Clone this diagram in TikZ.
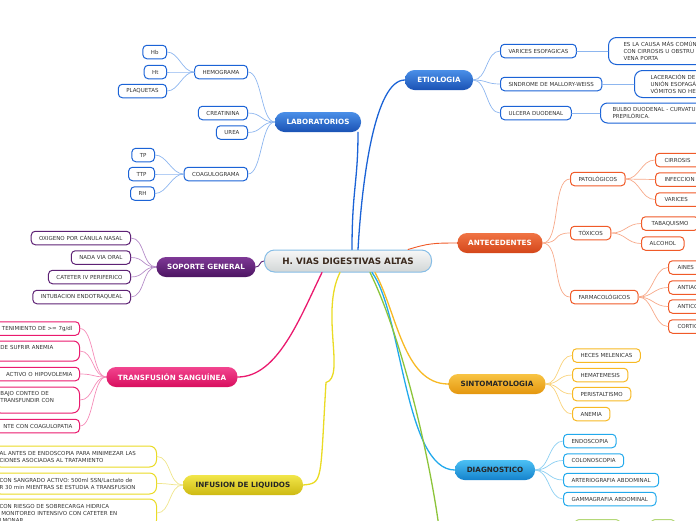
\documentclass[tikz,border=0pt]{standalone}
\usepackage{fontspec}
\setmainfont{DejaVu Sans}
\usetikzlibrary{calc}

\definecolor{txtgray}{HTML}{333333}
\definecolor{roottext}{HTML}{3B2A1E}
\definecolor{rootline}{HTML}{86BDE6}
\definecolor{rootA}{HTML}{F7F7F7}
\definecolor{rootB}{HTML}{D2D6D6}
% blue (laboratorios, etiologia)
\definecolor{labA}{HTML}{4A8FE8}
\definecolor{labB}{HTML}{1A52B4}
\definecolor{labline}{HTML}{1B63D6}
\definecolor{labkid}{HTML}{8DB6EF}
% purple
\definecolor{sopA}{HTML}{7E3996}
\definecolor{sopB}{HTML}{4C1462}
\definecolor{sopline}{HTML}{5E2275}
\definecolor{sopkid}{HTML}{B58CC8}
% orange-red
\definecolor{antA}{HTML}{F07444}
\definecolor{antB}{HTML}{D4461A}
\definecolor{antline}{HTML}{F05A28}
\definecolor{antkid}{HTML}{F7A98A}
% pink
\definecolor{traA}{HTML}{F2458F}
\definecolor{traB}{HTML}{D80E5E}
\definecolor{traline}{HTML}{EA1A6E}
\definecolor{trakid}{HTML}{F58CB8}
% orange-yellow
\definecolor{sinA}{HTML}{F8C444}
\definecolor{sinB}{HTML}{E4960E}
\definecolor{sinline}{HTML}{F7B924}
\definecolor{sinkid}{HTML}{F9D27A}
% light blue
\definecolor{diaA}{HTML}{4CC0F4}
\definecolor{diaB}{HTML}{1482CC}
\definecolor{dialine}{HTML}{22A9EC}
\definecolor{diakid}{HTML}{8CCFF2}
% yellow
\definecolor{infA}{HTML}{F2E64A}
\definecolor{infB}{HTML}{CDB912}
\definecolor{infline}{HTML}{EADB24}
\definecolor{infkid}{HTML}{EFE58A}
% green
\definecolor{verde}{HTML}{8CC43A}
\definecolor{verdekid}{HTML}{B4D878}

\begin{document}
\begin{tikzpicture}[x=1pt, y=-1pt, line cap=round, line join=round,
	leaf/.style={draw, fill=white, rounded corners=4pt, line width=1pt, text=txtgray,
		font=\fontsize{5.5}{7}\selectfont, inner xsep=8pt, inner ysep=0pt, minimum height=13.5pt},
	edgeleaf/.style={leaf, align=left, text width=36pt, inner xsep=9pt},
	branch/.style={rounded corners=9.5pt, minimum height=20pt, inner xsep=10pt,
		font=\bfseries\fontsize{7.2}{8}\selectfont},
	kid/.style={line width=0.7pt},
	trunk/.style={line width=1.3pt}]

\useasboundingbox (0,0) rectangle (696,520);
\clip (0,0) rectangle (696,520);

%========================
% Root
%========================
\node[draw=rootline, line width=1pt, rounded corners=10pt, top color=rootA, bottom color=rootB,
	minimum width=167pt, minimum height=22pt, font=\bfseries\fontsize{8.8}{10}\selectfont,
	text=roottext] (root) at (348,261) {H. VIAS DIGESTIVAS ALTAS};

%========================
% Laboratorios
%========================
\node[branch, top color=labA, bottom color=labB, text=white, minimum width=86pt] (lab) at (318,122) {LABORATORIOS};
\node[leaf, draw=labline, anchor=east] (hem) at (248,72) {HEMOGRAMA};
\node[leaf, draw=labline, anchor=east] (hb) at (167,52) {Hb};
\node[leaf, draw=labline, anchor=east] (ht) at (167,72) {Ht};
\node[leaf, draw=labline, anchor=east] (plq) at (167,91) {PLAQUETAS};
\node[leaf, draw=labline, anchor=east] (crea) at (248,113) {CREATININA};
\node[leaf, draw=labline, anchor=east] (urea) at (248,132.5) {UREA};
\node[leaf, draw=labline, anchor=east] (coag) at (248,174) {COAGULOGRAMA};
\node[leaf, draw=labline, anchor=east] (tp) at (155,155) {TP};
\node[leaf, draw=labline, anchor=east] (ttp) at (155,174) {TTP};
\node[leaf, draw=labline, anchor=east] (rh) at (155,193.5) {RH};

\draw[trunk, labline] ($(root.north)+(4,0)$) .. controls +(0,-60) and +(0,50) .. ($(lab.south)+(40,0)$);
\foreach \k in {hem,crea,urea,coag}
	\draw[kid, labkid] (lab.west) .. controls +(-14,0) and +(14,0) .. (\k.east);
\foreach \k in {hb,ht,plq}
	\draw[kid, labkid] (hem.west) .. controls +(-12,0) and +(12,0) .. (\k.east);
\foreach \k in {tp,ttp,rh}
	\draw[kid, labkid] (coag.west) .. controls +(-12,0) and +(12,0) .. (\k.east);

%========================
% Etiologia
%========================
\node[branch, top color=labA, bottom color=labB, text=white, minimum width=68pt] (etio) at (439,80) {ETIOLOGIA};
\node[leaf, draw=labline, anchor=west] (vari) at (500,51) {VARICES ESOFAGICAS};
\node[leaf, draw=labline, anchor=west] (mw) at (500,84) {SINDROME DE MALLORY-WEISS};
\node[leaf, draw=labline, anchor=west] (ulc) at (500,113) {ULCERA DUODENAL};
\node[leaf, draw=labline, anchor=west, align=left, text width=110pt, inner xsep=15pt,
	minimum height=27pt, rounded corners=8pt] (vari1) at (608,51)
	{ES LA CAUSA MÁS COMÚN\\CON CIRROSIS U OBSTRU\\VENA PORTA};
\node[leaf, draw=labline, anchor=west, align=left, text width=90pt, inner xsep=16pt,
	minimum height=27pt, rounded corners=8pt] (mw1) at (634,84)
	{LACERACIÓN DE\\UNIÓN ESOFAGÁ\\VÓMITOS NO HE};
\node[leaf, draw=labline, anchor=west, align=left, text width=110pt, inner xsep=12pt,
	minimum height=20pt, rounded corners=7pt] (ulc1) at (600,113)
	{BULBO DUODENAL - CURVATU\\PREPILÓRICA.};

\draw[trunk, labline] ($(root.north)+(10,0)$) .. controls +(4,-70) and +(-30,0) .. (etio.west);
\foreach \k in {vari,mw,ulc}
	\draw[kid, labkid] (etio.east) .. controls +(14,0) and +(-14,0) .. (\k.west);
\draw[kid, labkid] (vari.east) -- (vari1.west);
\draw[kid, labkid] (mw.east) -- (mw1.west);
\draw[kid, labkid] (ulc.east) -- (ulc1.west);

%========================
% Antecedentes
%========================
\node[branch, top color=antA, bottom color=antB, text=white, minimum width=85pt] (ant) at (500,243) {ANTECEDENTES};
\node[leaf, draw=antline, anchor=west] (pat) at (570,179) {PATOLÓGICOS};
\node[edgeleaf, draw=antline, anchor=west] (cirr) at (655,160) {CIRROSIS};
\node[edgeleaf, draw=antline, anchor=west] (infec) at (655,179.5) {INFECCION};
\node[edgeleaf, draw=antline, anchor=west] (varc) at (655,199.5) {VARICES};
\node[leaf, draw=antline, anchor=west] (tox) at (570,233) {TÓXICOS};
\node[leaf, draw=antline, anchor=west, minimum width=57pt] (tab) at (641,223.5) {TABAQUISMO};
\node[leaf, draw=antline, anchor=west] (alc) at (641,243.5) {ALCOHOL};
\node[leaf, draw=antline, anchor=west] (farm) at (570,297) {FARMACOLÓGICOS};
\node[edgeleaf, draw=antline, anchor=west] (aines) at (668,267.5) {AINES};
\node[edgeleaf, draw=antline, anchor=west] (antiag) at (668,287.5) {ANTIAC};
\node[edgeleaf, draw=antline, anchor=west] (antico) at (668,306.5) {ANTICO};
\node[edgeleaf, draw=antline, anchor=west] (cort) at (668,326.5) {CORTIC};

\draw[line width=0.9pt, antline] ($(root.north)+(60,0)$) .. controls +(20,-6) and +(-25,0) .. (ant.west);
\foreach \k in {pat,tox,farm}
	\draw[kid, antkid] (ant.east) .. controls +(18,0) and +(-18,0) .. (\k.west);
\foreach \k in {cirr,infec,varc}
	\draw[kid, antkid] (pat.east) .. controls +(14,0) and +(-14,0) .. (\k.west);
\foreach \k in {tab,alc}
	\draw[kid, antkid] (tox.east) .. controls +(14,0) and +(-14,0) .. (\k.west);
\foreach \k in {aines,antiag,antico,cort}
	\draw[kid, antkid] (farm.east) .. controls +(14,0) and +(-14,0) .. (\k.west);

%========================
% Soporte general
%========================
\node[branch, top color=sopA, bottom color=sopB, text=white, minimum width=99pt] (sop) at (206,267) {SOPORTE GENERAL};
\node[leaf, draw=sopline, anchor=east] (oxi) at (131,238) {OXIGENO POR CÁNULA NASAL};
\node[leaf, draw=sopline, anchor=east] (nvo) at (131,257.5) {NADA VIA ORAL};
\node[leaf, draw=sopline, anchor=east] (cat) at (131,277) {CATETER IV PERIFERICO};
\node[leaf, draw=sopline, anchor=east] (intu) at (131,297) {INTUBACION ENDOTRAQUEAL};

\draw[line width=0.9pt, sopline] (root.west) .. controls +(-5,0) and +(5,0) .. (sop.east);
\foreach \k in {oxi,nvo,cat,intu}
	\draw[kid, sopkid] (sop.west) .. controls +(-14,0) and +(14,0) .. (\k.east);

%========================
% Transfusion sanguinea
%========================
\node[branch, top color=traA, bottom color=traB, text=white, minimum width=131pt] (tra) at (172,377) {TRANSFUSIÓN SANGUÍNEA};
\node[leaf, draw=traline, anchor=east, align=right, text width=72pt, inner xsep=7pt] (t1) at (80,328.5) {TENIMIENTO DE >= 7g/dl};
\node[leaf, draw=traline, anchor=east, align=left, text width=72pt, inner xsep=7pt,
	minimum height=20pt, rounded corners=6pt] (t2) at (80,351) {DE SUFRIR ANEMIA\\\phantom{X}};
\node[leaf, draw=traline, anchor=east, align=right, text width=72pt, inner xsep=7pt] (t3) at (80,374) {ACTIVO O HIPOVOLEMIA};
\node[leaf, draw=traline, anchor=east, align=left, text width=72pt, inner xsep=7pt,
	minimum height=26pt, rounded corners=7pt] (t4) at (80,400) {BAJO CONTEO DE\\TRANSFUNDIR CON\\\phantom{X}};
\node[leaf, draw=traline, anchor=east, align=right, text width=72pt, inner xsep=7pt] (t5) at (80,426) {NTE CON COAGULOPATIA};

\draw[trunk, traline] ($(root.south)+(-26,0)$) .. controls +(-22,45) and +(40,0) .. (tra.east);
\foreach \k in {t1,t2,t3,t4,t5}
	\draw[kid, trakid] (tra.west) .. controls +(-14,0) and +(14,0) .. (\k.east);

%========================
% Infusion de liquidos
%========================
\node[branch, top color=infA, bottom color=infB, text=black!85, minimum width=120pt] (infu) at (243,485) {INFUSION DE LIQUIDOS};
\node[leaf, draw=infline, anchor=east, align=left, text width=151pt, inner xsep=6pt,
	minimum height=21pt, rounded corners=7pt] (i1) at (157,456.5)
	{AL ANTES DE ENDOSCOPIA PARA MINIMEZAR LAS\\CIONES ASOCIADAS AL TRATAMIENTO};
\node[leaf, draw=infline, anchor=east, align=left, text width=151pt, inner xsep=6pt,
	minimum height=21pt, rounded corners=7pt] (i2) at (157,483.5)
	{CON SANGRADO ACTIVO: 500ml SSN/Lactato de\\R 30 min MIENTRAS SE ESTUDIA A TRANSFUSION};
\node[leaf, draw=infline, anchor=east, align=left, text width=151pt, inner xsep=6pt,
	minimum height=28pt, rounded corners=7pt] (i3) at (157,513)
	{CON RIESGO DE SOBRECARGA HIDRICA\\\ MONITOREO INTENSIVO CON CATETER EN\\LMONAR};

\draw[trunk, infline] ($(root.south)+(-8,0)$) .. controls +(-20,40) and +(20,-5) .. +(-14,110)
	.. controls +(-6,100) and +(20,-2) .. (infu.east);
\foreach \k in {i1,i2,i3}
	\draw[kid, infkid] (infu.west) .. controls +(-14,0) and +(14,0) .. (\k.east);

%========================
% Sintomatologia
%========================
\node[branch, top color=sinA, bottom color=sinB, text=black!85, minimum width=97pt] (sin) at (497,384) {SINTOMATOLOGIA};
\node[leaf, draw=sinline, anchor=west] (hec) at (572,355.5) {HECES MELENICAS};
\node[leaf, draw=sinline, anchor=west] (hemat) at (572,375) {HEMATEMESIS};
\node[leaf, draw=sinline, anchor=west] (peri) at (572,394) {PERISTALTISMO};
\node[leaf, draw=sinline, anchor=west] (anem) at (572,414) {ANEMIA};

\draw[trunk, sinline] ($(root.south)+(27,0)$) .. controls +(22,40) and +(-45,0) .. (sin.west);
\foreach \k in {hec,hemat,peri,anem}
	\draw[kid, sinkid] (sin.east) .. controls +(14,0) and +(-14,0) .. (\k.west);

%========================
% Diagnostico
%========================
\node[branch, top color=diaA, bottom color=diaB, text=black!85, minimum width=80pt] (diag) at (495,470) {DIAGNOSTICO};
\node[leaf, draw=dialine, anchor=west] (endo) at (563,441) {ENDOSCOPIA};
\node[leaf, draw=dialine, anchor=west] (colo) at (563,460.5) {COLONOSCOPIA};
\node[leaf, draw=dialine, anchor=west] (arte) at (563,480) {ARTERIOGRAFIA ABDOMINAL};
\node[leaf, draw=dialine, anchor=west] (gamma) at (563,499) {GAMMAGRAFIA ABDOMINAL};

\draw[trunk, dialine] ($(root.south)+(24,0)$) .. controls +(30,40) and +(-50,0) .. (diag.west);
\foreach \k in {endo,colo,arte,gamma}
	\draw[kid, diakid] (diag.east) .. controls +(14,0) and +(-14,0) .. (\k.west);

%========================
% Green branch (below the page)
%========================
\coordinate (vend) at (440,535);
\draw[trunk, verde] ($(root.south)+(22,0)$) .. controls +(30,60) and +(-10,-80) .. (vend);
\draw[line width=1pt, verdekid, rounded corners=4pt] (575,519.5) rectangle (620,535);
\draw[line width=1pt, verdekid, rounded corners=4pt] (651,519.5) rectangle (675,535);

\end{tikzpicture}
\end{document}
